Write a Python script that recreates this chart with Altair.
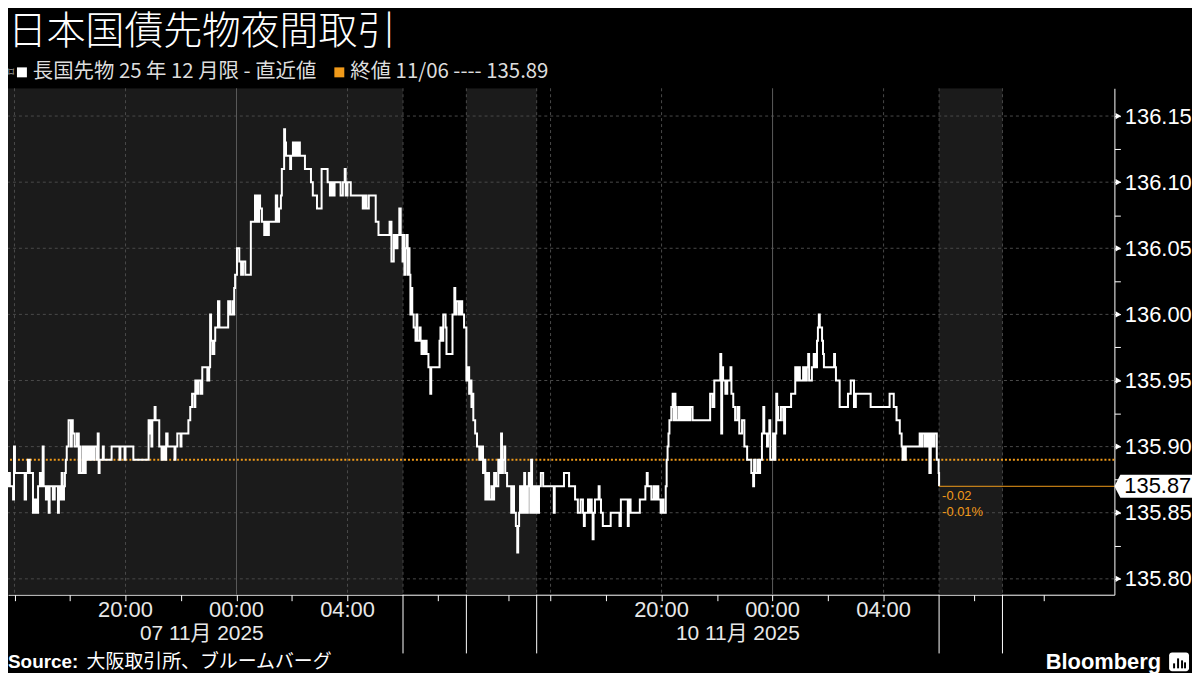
import altair as alt
import pandas as pd

# ---------------- data ----------------
# trading-time minutes since the 15:30 night-session open on 06 Nov
minutes = [
    0, 1, 3, 5, 9, 12, 14, 18, 20, 27, 29, 31, 52, 55, 59, 63, 70, 74, 78, 81,
    85, 89, 91, 93, 98, 102, 104, 106, 113, 117, 124, 126, 130, 132, 134, 137, 139, 141, 143, 147,
    152, 154, 156, 160, 165, 169, 171, 173, 178, 180, 184, 186, 190, 193, 197, 199, 203, 208, 210, 212,
    214, 221, 223, 240, 257, 259, 268, 270, 287, 320, 322, 324, 326, 328, 333, 335, 343, 348, 350, 354,
    358, 361, 376, 378, 382, 389, 391, 406, 410, 414, 419, 421, 423, 427, 432, 436, 447, 451, 453, 455,
    458, 462, 464, 470, 473, 492, 496, 501, 503, 505, 507, 511, 516, 520, 524, 529, 541, 550, 552, 554,
    557, 559, 561, 565, 570, 574, 576, 580, 595, 598, 602, 606, 608, 613, 615, 617, 626, 628, 632, 634,
    636, 638, 641, 643, 645, 647, 658, 671, 675, 684, 694, 707, 712, 716, 718, 722, 735, 740, 744, 746,
    750, 757, 783, 787, 791, 796, 811, 817, 841, 845, 850, 854, 858, 862, 865, 869, 871, 873, 875, 878,
    880, 882, 884, 886, 888, 890, 893, 897, 899, 901, 906, 908, 910, 914, 916, 918, 921, 925, 929, 931,
    949, 951, 953, 957, 962, 964, 977, 981, 983, 985, 990, 994, 998, 1002, 1007, 1011, 1013, 1015, 1018, 1020,
    1022, 1026, 1030, 1035, 1039, 1043, 1046, 1048, 1052, 1056, 1061, 1063, 1067, 1071, 1076, 1080, 1082, 1084, 1086, 1089,
    1091, 1095, 1104, 1108, 1110, 1114, 1117, 1119, 1121, 1123, 1125, 1127, 1130, 1132, 1134, 1136, 1138, 1140, 1142, 1145,
    1147, 1149, 1151, 1155, 1158, 1162, 1164, 1168, 1173, 1196, 1198, 1218, 1229, 1242, 1248, 1254, 1259, 1261, 1263, 1270,
    1272, 1274, 1278, 1280, 1282, 1285, 1293, 1295, 1298, 1302, 1319, 1338, 1341, 1356, 1358, 1362, 1382, 1394, 1397, 1399,
    1407, 1412, 1414, 1418, 1422, 1427, 1429, 1433, 1438, 1440, 1442, 1444, 1446, 1450, 1453, 1455, 1457, 1459, 1461, 1466,
    1468, 1472, 1474, 1478, 1481, 1485, 1487, 1491, 1496, 1534, 1539, 1543, 1556, 1558, 1560, 1562, 1567, 1571, 1578, 1580,
    1584, 1588, 1593, 1597, 1603, 1608, 1614, 1623, 1627, 1629, 1631, 1636, 1640, 1642, 1646, 1649, 1651, 1657, 1659, 1662,
    1664, 1670, 1672, 1675, 1677, 1679, 1681, 1687, 1692, 1694, 1696, 1709, 1718, 1722, 1724, 1728, 1735, 1739, 1743, 1746,
    1748, 1754, 1758, 1761, 1765, 1767, 1769, 1771, 1776, 1778, 1780, 1802, 1804, 1806, 1814, 1832, 1838, 1845, 1849, 1881,
    1922, 1931, 1937, 1944, 1948, 1950, 1952, 1955, 1957, 1987, 1991, 1993, 1998, 2000, 2002, 2006, 2008, 2011, 2015, 2019,
    2024, 2028, 2029,
]
prices = [
    135.88, 135.89, 135.87, 135.88, 135.87, 135.88, 135.87, 135.88, 135.87, 135.86, 135.90, 135.88, 135.86, 135.88, 135.89, 135.88, 135.85, 135.86, 135.85, 135.87,
    135.88, 135.87, 135.90, 135.87, 135.86, 135.87, 135.85, 135.87, 135.86, 135.87, 135.85, 135.87, 135.86, 135.88, 135.86, 135.87, 135.88, 135.89, 135.90, 135.92,
    135.90, 135.92, 135.91, 135.90, 135.91, 135.88, 135.90, 135.88, 135.90, 135.88, 135.90, 135.89, 135.90, 135.89, 135.90, 135.89, 135.90, 135.89, 135.91, 135.88,
    135.89, 135.90, 135.89, 135.90, 135.89, 135.90, 135.89, 135.90, 135.89, 135.92, 135.91, 135.92, 135.90, 135.92, 135.93, 135.92, 135.90, 135.89, 135.90, 135.89,
    135.91, 135.90, 135.89, 135.90, 135.91, 135.90, 135.91, 135.92, 135.93, 135.94, 135.93, 135.95, 135.94, 135.95, 135.94, 135.96, 135.95, 135.96, 136.00, 135.98,
    135.97, 135.98, 135.99, 136.01, 135.99, 136.01, 136.00, 136.01, 136.00, 136.02, 136.03, 136.05, 136.04, 136.03, 136.04, 136.03, 136.07, 136.09, 136.07, 136.09,
    136.07, 136.09, 136.08, 136.07, 136.06, 136.07, 136.06, 136.07, 136.09, 136.07, 136.08, 136.09, 136.11, 136.14, 136.13, 136.12, 136.11, 136.12, 136.13, 136.12,
    136.13, 136.12, 136.13, 136.12, 136.13, 136.12, 136.11, 136.10, 136.09, 136.08, 136.11, 136.10, 136.09, 136.10, 136.09, 136.10, 136.09, 136.10, 136.11, 136.09,
    136.10, 136.09, 136.08, 136.09, 136.08, 136.09, 136.07, 136.06, 136.07, 136.04, 136.06, 136.05, 136.06, 136.08, 136.06, 136.04, 136.06, 136.03, 136.05, 136.06,
    136.03, 136.05, 136.03, 136.00, 136.02, 136.00, 135.99, 135.98, 136.00, 135.98, 135.99, 135.98, 135.97, 135.98, 135.97, 135.98, 135.97, 135.96, 135.94, 135.96,
    135.98, 135.99, 135.98, 136.00, 135.99, 135.97, 136.00, 136.02, 136.00, 136.01, 136.00, 136.01, 136.00, 135.99, 135.95, 135.96, 135.94, 135.95, 135.93, 135.94,
    135.92, 135.91, 135.90, 135.89, 135.90, 135.88, 135.89, 135.86, 135.88, 135.86, 135.87, 135.86, 135.88, 135.87, 135.89, 135.88, 135.91, 135.88, 135.89, 135.90,
    135.88, 135.87, 135.85, 135.87, 135.85, 135.84, 135.82, 135.84, 135.85, 135.87, 135.85, 135.87, 135.85, 135.88, 135.85, 135.87, 135.85, 135.87, 135.88, 135.85,
    135.89, 135.85, 135.87, 135.85, 135.87, 135.85, 135.87, 135.88, 135.87, 135.85, 135.87, 135.88, 135.87, 135.86, 135.85, 135.86, 135.85, 135.84, 135.85, 135.86,
    135.85, 135.86, 135.85, 135.83, 135.85, 135.86, 135.87, 135.86, 135.85, 135.84, 135.85, 135.84, 135.86, 135.84, 135.86, 135.85, 135.86, 135.87, 135.88, 135.87,
    135.86, 135.87, 135.86, 135.87, 135.86, 135.85, 135.86, 135.85, 135.87, 135.89, 135.90, 135.91, 135.92, 135.93, 135.94, 135.92, 135.94, 135.93, 135.92, 135.93,
    135.92, 135.93, 135.92, 135.93, 135.92, 135.93, 135.92, 135.93, 135.92, 135.94, 135.93, 135.95, 135.97, 135.91, 135.96, 135.95, 135.94, 135.95, 135.96, 135.94,
    135.93, 135.92, 135.93, 135.91, 135.92, 135.90, 135.89, 135.88, 135.87, 135.89, 135.88, 135.89, 135.88, 135.89, 135.91, 135.93, 135.91, 135.90, 135.91, 135.92,
    135.89, 135.91, 135.89, 135.91, 135.94, 135.93, 135.92, 135.93, 135.92, 135.91, 135.93, 135.94, 135.96, 135.95, 135.96, 135.95, 135.96, 135.95, 135.96, 135.97,
    135.95, 135.96, 135.97, 135.96, 135.98, 135.99, 136.00, 135.99, 135.98, 135.97, 135.96, 135.97, 135.96, 135.95, 135.93, 135.94, 135.95, 135.93, 135.94, 135.93,
    135.94, 135.93, 135.92, 135.91, 135.90, 135.89, 135.90, 135.89, 135.90, 135.91, 135.90, 135.91, 135.90, 135.91, 135.90, 135.91, 135.88, 135.91, 135.90, 135.91,
    135.89, 135.88, 135.87,
]

prev_close = 135.89
last_change = ["-0.02", "-0.01%"]

# trading sessions (minutes of trading time): shaded = alternate sessions
shade_start = [0, 1007, 2029]
shade_end = [870, 1159, 2166]
session_bounds = [870, 1007, 1159, 2029, 2166]
minor_ticks = [30, 150, 270, 390, 510, 630, 750, 945, 1097, 1189, 1309, 1429,
               1549, 1669, 1789, 1909, 2104, 2256]
grid_dashed = [30, 270, 750, 870, 1007, 1159, 1189, 1429, 1909, 2029, 2166]
grid_midnight = [510, 1669]
time_tick_pos = [270, 510, 750, 1429, 1669, 1909]
time_tick_lbl = ["20:00", "00:00", "04:00", "20:00", "00:00", "04:00"]
date_pos = [435, 1594]
date_lbl = ["07 11月 2025", "10 11月 2025"]
y_grid = [135.80, 135.85, 135.90, 135.95, 136.00, 136.05, 136.10, 136.15]
y_ticks = [round(135.80 + 0.025 * i, 3) for i in range(15)]

# ---------------- styling ----------------
W, H = 1112, 509
ORANGE = "#f09a1a"
GRID = "#4a4a4a"
LATIN = "Liberation Sans, Noto Sans CJK JP"
CJK = "Noto Sans CJK JP"
X_END = 2408

x_scale = alt.Scale(domain=[16, X_END], nice=False, zero=False)
y_scale = alt.Scale(domain=[135.788, 136.171], nice=False, zero=False)
x_axis = alt.Axis(values=minor_ticks, labels=False, tickColor="white", tickSize=6,
                  domainColor="white", grid=False, title=None)
y_axis = alt.Axis(orient="right", values=y_ticks,
                  labelExpr="(round(datum.value*1000) % 50 == 0) ? format(datum.value, '.2f') : ''",
                  tickSize=6, tickColor="white", domainColor="white", labelColor="white",
                  labelFontSize=22, labelFont=LATIN, labelPadding=4, grid=False,
                  title=None, labelOverlap=False)


def X(f):
    return alt.X(f, scale=x_scale, axis=x_axis, title=None)


def Y(f):
    return alt.Y(f, scale=y_scale, axis=y_axis, title=None)


one = pd.DataFrame({"a": [0]})

shade = alt.Chart(pd.DataFrame({"s": shade_start, "e": shade_end})).mark_rect(
    color="#1b1b1b", clip=True).encode(x=X("s:Q"), x2="e:Q")

hgrid = alt.Chart(pd.DataFrame({"v": y_grid})).mark_rule(
    color=GRID, strokeDash=[3, 3]).encode(y=Y("v:Q"))
vgrid = alt.Chart(pd.DataFrame({"m": grid_dashed})).mark_rule(
    color=GRID, strokeDash=[3, 3]).encode(x=X("m:Q"))
vmid = alt.Chart(pd.DataFrame({"m": grid_midnight})).mark_rule(
    color="#5c5c5c").encode(x=X("m:Q"))
longticks = alt.Chart(pd.DataFrame({"m": session_bounds})).mark_rule(
    color="white").encode(x=X("m:Q"), y=alt.value(H), y2=alt.value(H + 59))

prevline = alt.Chart(pd.DataFrame({"v": [prev_close]})).mark_rule(
    color=ORANGE, strokeDash=[2, 2], strokeWidth=2).encode(y=Y("v:Q"))

series = alt.Chart(pd.DataFrame({"m": minutes, "p": prices})).mark_line(
    interpolate="step-after", color="white", strokeWidth=2, clip=True).encode(
    x=X("m:Q"), y=Y("p:Q"))

last_df = pd.DataFrame({"m": [minutes[-1]], "e": [X_END], "p": [prices[-1]],
                        "c1": [last_change[0]], "c2": [last_change[1]],
                        "lbl": [f"{prices[-1]:.2f}"]})
lastrule = alt.Chart(last_df).mark_rule(color=ORANGE, strokeWidth=1).encode(
    x=X("m:Q"), x2="e:Q", y=Y("p:Q"))
chg1 = alt.Chart(last_df).mark_text(color=ORANGE, fontSize=13, font=LATIN, align="left",
                                    baseline="middle", dx=3, dy=10).encode(
    x=X("m:Q"), y=Y("p:Q"), text="c1:N")
chg2 = alt.Chart(last_df).mark_text(color=ORANGE, fontSize=13, font=LATIN, align="left",
                                    baseline="middle", dx=3, dy=26).encode(
    x=X("m:Q"), y=Y("p:Q"), text="c2:N")

tri = alt.Chart(pd.DataFrame({"v": y_grid})).mark_point(
    shape="triangle-right", size=40, filled=True, color="white", opacity=1).encode(
    y=Y("v:Q"), x=alt.value(W + 4))

badge = alt.Chart(last_df).mark_point(
    shape="M -1 0 L -0.85 -0.29 L 1 -0.29 L 1 0.29 L -0.85 0.29 Z",
    size=6400, filled=True, color="white", opacity=1, strokeWidth=0).encode(
    y=Y("p:Q"), x=alt.value(W + 40))
badge_txt = alt.Chart(last_df).mark_text(
    color="black", fontSize=22, font=LATIN, align="left", baseline="middle").encode(
    y=Y("p:Q"), x=alt.value(W + 10), text="lbl:N")

tl = alt.Chart(pd.DataFrame({"m": time_tick_pos, "t": time_tick_lbl})).mark_text(
    color="#e8e8e8", fontSize=22, font=LATIN, baseline="middle").encode(
    x=X("m:Q"), y=alt.value(H + 15), text="t:N")
dl = alt.Chart(pd.DataFrame({"m": date_pos, "t": date_lbl})).mark_text(
    color="#e8e8e8", fontSize=21, font=LATIN, baseline="middle").encode(
    x=X("m:Q"), y=alt.value(H + 40), text="t:N")


def label(text, x, y, size, color="white", weight="normal", font=CJK, align="left",
          baseline="middle"):
    return alt.Chart(one).mark_text(text=text, fontSize=size, color=color, fontWeight=weight,
                                    font=font, align=align, baseline=baseline).encode(
        x=alt.value(x), y=alt.value(y))


def box(x, y, s, color):
    return alt.Chart(one).mark_point(shape="square", size=s, filled=True, color=color,
                                     opacity=1).encode(x=alt.value(x), y=alt.value(y))


title = label("日本国債先物夜間取引", 0, -45, 39, weight=300, baseline="alphabetic")
leg_icon = label("⌑", 0, -16, 12, color="#bbbbbb", font="DejaVu Sans")
leg1 = label("長国先物 25 年 12 月限 - 直近値", 25, -16, 20.5, color="#dddddd")
leg2 = label("終値 11/06 ---- 135.89", 344, -16, 20.5, color="#dddddd")
sq1 = box(14, -16, 100, "white")
sq2 = box(333, -16, 100, ORANGE)
src1 = label("Source:", 0, 577, 19, weight="bold", font=LATIN)
src2 = label("大阪取引所、ブルームバーグ", 79, 577, 19)
bbg = label("Bloomberg", 1159, 577, 22, weight="bold", font=LATIN, align="right")
logo = alt.Chart(one).mark_rect(color="white", cornerRadius=3).encode(
    x=alt.value(1167), x2=alt.value(1187), y=alt.value(567), y2=alt.value(586))
logo_bars = alt.Chart(pd.DataFrame({"bx": [1172, 1176, 1180, 1183], "by": [578, 573, 575, 577]})).mark_rule(
    color="black", strokeWidth=2).encode(
    x=alt.X("bx:Q", scale=None), y=alt.Y("by:Q", scale=None), y2=alt.value(583))

chart = alt.layer(
    shade, hgrid, vgrid, vmid, longticks, prevline, series, lastrule, chg1, chg2,
    tri, badge, badge_txt, tl, dl, title, leg_icon, leg1, leg2, sq1, sq2, src1, src2,
    bbg, logo, logo_bars
).properties(
    width=W, height=H,
    autosize=alt.AutoSizeParams(type="none"),
    padding={"left": 0, "top": 79, "right": 78, "bottom": 77},
    background="#000000",
).resolve_scale(x="shared", y="shared").configure_view(stroke=None)

chart.save("out.html", embed_options={"renderer": "svg", "actions": False})
